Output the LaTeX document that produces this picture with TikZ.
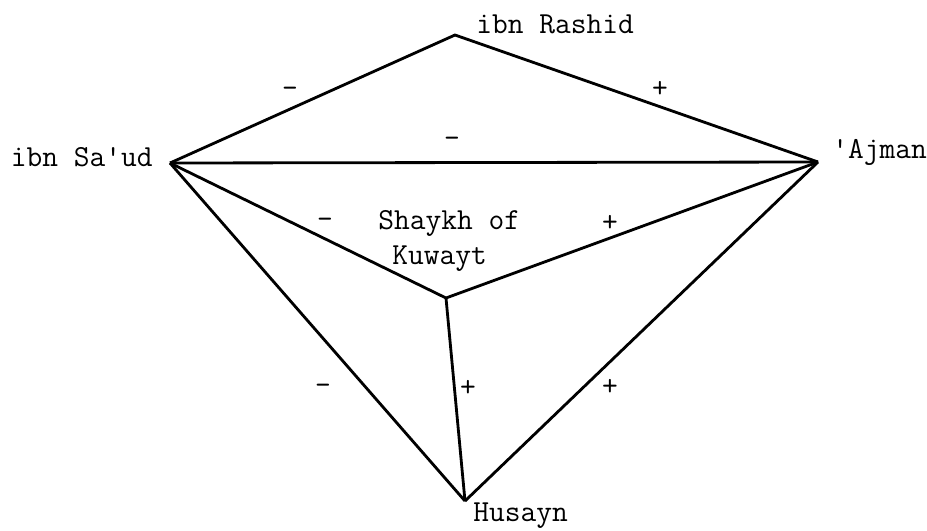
\documentclass[tikz,border=0pt]{standalone}
\usepackage{fontspec}
\usetikzlibrary{positioning}

\tikzset{
    tie/.style={line width=1.6pt},
    party/.style={inner sep=0pt},
    sign/.style={inner sep=1pt}
}

\begin{document}
\begin{tikzpicture}[x=0.02cm, y=-0.02cm, font=\ttfamily\fontsize{17.4}{21}\selectfont]
        \useasboundingbox (0,0) rectangle (927,531);
        % the five parties
        \coordinate (rashid) at (455,35);
        \coordinate (saud) at (170,163);
        \coordinate (ajman) at (818,162);
        \coordinate (shaykh) at (446,298);
        \coordinate (husayn) at (465,501);
        \node[party, anchor=base west] (rashidlbl) at (476,33) {ibn Rashid};
        \node[party, anchor=base east] (saudlbl) at (153,166) {ibn Sa'ud};
        \node[party, anchor=base west] (ajmanlbl) at (832,158) {'Ajman};
        \node[party, anchor=base west] (shaykhlbl) at (378,229) {Shaykh of};
        \node[party, anchor=base west] (kuwaytlbl) at (392,264) {Kuwayt};
        \node[party, anchor=base west] (husaynlbl) at (473,521) {Husayn};

        % ties
        \draw[tie] (saud) -- (rashid) -- (ajman);
        \draw[tie] (saud) -- (ajman);
        \draw[tie] (saud) -- (shaykh) -- (ajman);
        \draw[tie] (saud) -- (husayn);
        \draw[tie] (shaykh) -- (husayn);
        \draw[tie] (ajman) -- (husayn);

        % signs
        \node[sign] (srsign) at (290,92) {-};
        \node[sign] (rasign) at (660,89) {+};
        \node[sign] (sasign) at (452,142) {-};
        \node[sign] (sksign) at (325,223) {-};
        \node[sign] (kasign) at (610,223) {+};
        \node[sign] (shsign) at (323,389) {-};
        \node[sign] (khsign) at (468,388) {+};
        \node[sign] (ahsign) at (610,387) {+};
\end{tikzpicture}
\end{document}
